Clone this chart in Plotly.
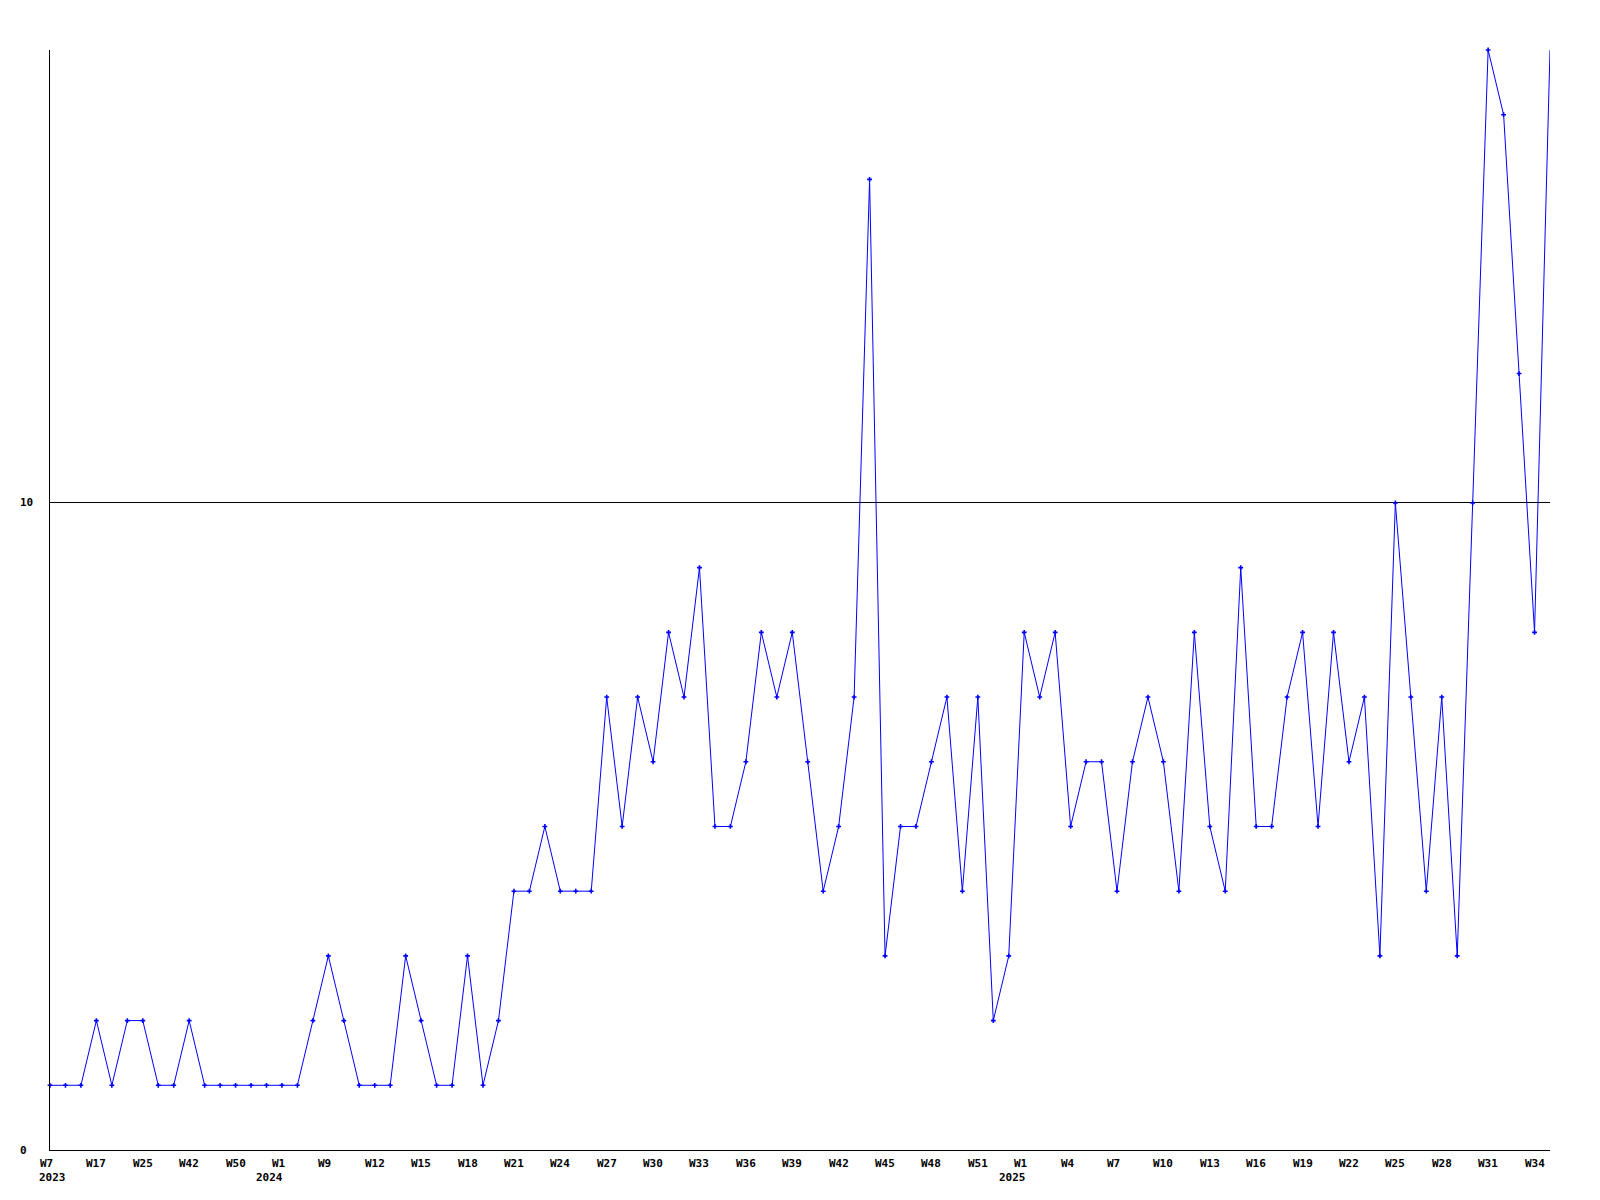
import plotly.graph_objects as go

# Weekly values (one per plotted week, in order)
values = [1, 1, 1, 2, 1, 2, 2, 1, 1, 2,
          1, 1, 1, 1, 1, 1, 1, 2, 3, 2,
          1, 1, 1, 3, 2, 1, 1, 3, 1, 2,
          4, 4, 5, 4, 4, 4, 7, 5, 7, 6,
          8, 7, 9, 5, 5, 6, 8, 7, 8, 6,
          4, 5, 7, 15, 3, 5, 5, 6, 7, 4,
          7, 2, 3, 8, 7, 8, 5, 6, 6, 4,
          6, 7, 6, 4, 8, 5, 4, 9, 5, 5,
          7, 8, 5, 8, 6, 7, 3, 10, 7, 4,
          7, 3, 10, 17, 16, 12, 8, 17]

# X tick labels (week) at point index
tick_index = [0, 3, 6, 9, 12, 15, 18, 21, 24, 27, 30, 33, 36, 39, 42, 45, 48,
              51, 54, 57, 60, 63, 66, 69, 72, 75, 78, 81, 84, 87, 90, 93, 96]
tick_labels = ["W7", "W17", "W25", "W42", "W50", "W1", "W9", "W12", "W15", "W18",
               "W21", "W24", "W27", "W30", "W33", "W36", "W39", "W42", "W45",
               "W48", "W51", "W1", "W4", "W7", "W10", "W13", "W16", "W19", "W22",
               "W25", "W28", "W31", "W34"]

# Year labels
year_index = [0, 15, 63]
year_labels = ["2023", "2024", "2025"]
year_shift = [-12, -27, -26]

# Y tick labels
y_ticks = [0, 10]

x = list(range(len(values)))
FONT = dict(family="DejaVu Sans Mono", size=11, color="black")

fig = go.Figure()
fig.add_trace(go.Scatter(
    x=x, y=values, mode="lines",
    line=dict(color="#0000ff", width=1),
    hoverinfo="skip", showlegend=False,
))
fig.add_trace(go.Scatter(
    x=x[:-1], y=values[:-1], mode="markers",
    marker=dict(symbol="cross", size=4, color="#0000ff", line=dict(width=0)),
    cliponaxis=False, hoverinfo="skip", showlegend=False,
))

annotations = []
for i, lab in zip(tick_index, tick_labels):
    annotations.append(dict(
        x=i, xref="x", y=0, yref="paper", text="<b>%s</b>" % lab,
        showarrow=False, xanchor="left", yanchor="middle",
        xshift=-12, yshift=-13, font=FONT,
    ))
for i, lab, s in zip(year_index, year_labels, year_shift):
    annotations.append(dict(
        x=i, xref="x", y=0, yref="paper", text="<b>%s</b>" % lab,
        showarrow=False, xanchor="left", yanchor="middle",
        xshift=s - 1, yshift=-27, font=FONT,
    ))
for v in y_ticks:
    annotations.append(dict(
        x=0, xref="paper", y=v, yref="y", text="<b>%d</b>" % v,
        showarrow=False, xanchor="left", yanchor="middle",
        xshift=-32, yshift=0, font=FONT,
    ))

fig.update_layout(
    width=1600, height=1200,
    margin=dict(l=50, r=50, t=50, b=50, pad=0),
    paper_bgcolor="white", plot_bgcolor="white",
    annotations=annotations,
    xaxis=dict(range=[0, len(values) - 1], showgrid=False, zeroline=False,
               showline=True, linecolor="black", linewidth=1,
               showticklabels=False, ticks="", fixedrange=True),
    yaxis=dict(range=[0, 17], tickvals=[10], showgrid=True, gridcolor="black",
               gridwidth=1, zeroline=False, showline=True, linecolor="black",
               linewidth=1, showticklabels=False, ticks="", fixedrange=True),
)

fig.write_html("out.html", config={"displayModeBar": False},
               post_script="document.body.style.margin='0';document.body.style.overflow='hidden';")
